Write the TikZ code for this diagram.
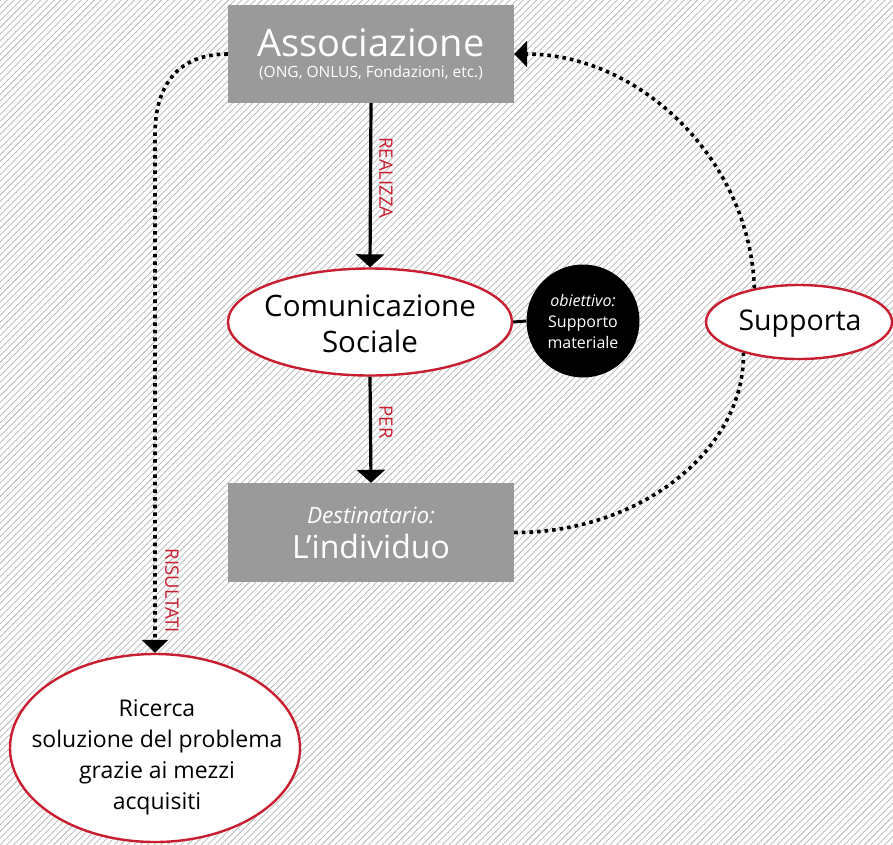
\documentclass[tikz,border=0pt]{standalone}
\usepackage{fontspec}
\setmainfont{Open Sans}
\usetikzlibrary{shapes.geometric,arrows.meta}
\definecolor{boxgray}{RGB}{153,154,153}
\definecolor{linkred}{RGB}{200,30,48}
\definecolor{hatchgray}{RGB}{182,182,182}
\tikzset{
  graybox/.style={rectangle, fill=boxgray, text=white, minimum width=286pt, inner sep=0pt, align=center},
  redell/.style={ellipse, draw=linkred, line width=2.4pt, fill=white, inner sep=0pt},
  inlabel/.style={align=center, inner sep=0pt},
  blackdisc/.style={circle, fill=black, text=white, minimum size=113pt, inner sep=0pt, align=center},
  flowarrow/.style={line width=3.2pt, -{Triangle[width=28pt,length=13pt]}},
  dotline/.style={line width=3.6pt, dash pattern=on 3.6pt off 4pt},
  dottip/.style={-{Triangle[width=26pt,length=13pt]}},
  verblabel/.style={text=linkred, rotate=-90, inner sep=0pt, font=\fontsize{18.5}{18.5}\selectfont}
}
\begin{document}
\begin{tikzpicture}[x=1pt,y=-1pt]
\useasboundingbox (0,0) rectangle (893,844);
% hatched backdrop
\begin{scope}
  \clip (0,0) rectangle (893,844);
  \fill[white] (0,0) rectangle (893,844);
  \foreach \s in {-856,-849.3,...,900}{
    \draw[hatchgray, line width=0.75pt] (\s,850) -- (\s+856,-6);
  }
\end{scope}

% boxes
\node[graybox, minimum height=98pt, font=\fontsize{15.5}{21}\selectfont] (assoc) at (371,54)
  {{\fontsize{38}{21}\selectfont Associazione}\\
   (ONG, ONLUS, Fondazioni, etc.)};
\node[graybox, minimum height=99pt, font=\fontsize{22.5}{35}\selectfont] (dest) at (371,532.5)
  {\textit{Destinatario:}\\
   {\fontsize{32}{35}\selectfont L’individuo}};

% ellipses with their texts, and the disc
\node[redell, minimum width=284pt, minimum height=107pt] (comm) at (370,322) {};
\node[inlabel, font=\fontsize{29.5}{36.5}\selectfont] (commtext) at (370,324)
  {Comunicazione\\Sociale};
\node[blackdisc, font=\fontsize{16}{21}\selectfont] (obiet) at (583,321)
  {\textit{obiettivo:}\\Supporto\\materiale};
\node[redell, minimum width=186pt, minimum height=74pt] (supp) at (799,322) {};
\node[inlabel, font=\fontsize{28.5}{28.5}\selectfont] (supptext) at (800,324) {Supporta};
\node[redell, minimum width=290pt, minimum height=188pt] (ric) at (155,748) {};
\node[inlabel, font=\fontsize{23}{31}\selectfont] (rictext) at (157,757)
  {Ricerca\\soluzione del problema\\grazie ai mezzi\\acquisiti};

% connectors
\draw[flowarrow] (assoc.south) -- (comm.north);
\draw[flowarrow] (comm.south) -- (dest.north);
\draw[line width=3pt] (comm.east) -- (obiet.west);
\draw[dotline, dottip] (assoc.west) .. controls (178,54) and (155,85) .. (155,135) -- (ric.north);
\draw[dotline] (dest.east) .. controls (640,533) and (745,450) .. (supp.209);
\draw[dotline, dottip] (supp.143) .. controls (750,160) and (640,54) .. (assoc.east);

% connector labels
\node[verblabel] (lrealizza) at (386,178) {REALIZZA};
\node[verblabel] (lper) at (386,422) {PER};
\node[verblabel] (lris) at (172,591) {RISULTATI};
\end{tikzpicture}
\end{document}
